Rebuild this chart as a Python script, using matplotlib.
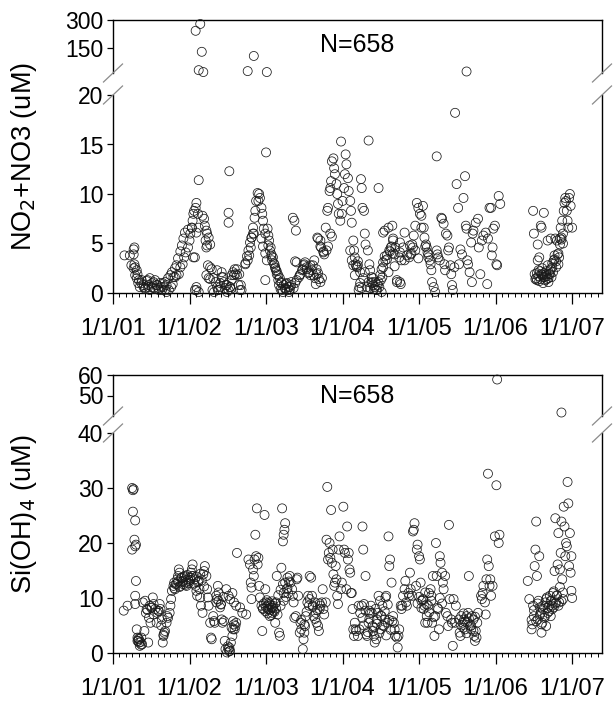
import numpy as np
import matplotlib
matplotlib.use("Agg")
import matplotlib.pyplot as plt
from matplotlib.lines import Line2D
from matplotlib.ticker import FixedLocator, MultipleLocator

plt.rcParams["font.family"] = ["Liberation Sans", "DejaVu Sans"]

# ---- data: time in years since 1/1/01, concentrations in uM ----
no3_t = [0.15, 0.22, 0.27, 0.28, 0.27, 0.28, 0.29, 0.31, 0.32, 0.34, 0.37, 0.40, 0.42, 0.45,
         0.46, 0.48, 0.51, 0.53, 0.55, 0.58, 0.60, 0.63, 0.65, 0.68, 0.70, 0.73, 0.76, 0.78,
         0.81, 0.83, 0.86, 0.88, 0.91, 0.93, 0.95, 0.98, 1.00, 1.01, 1.03, 1.04, 1.05, 1.06,
         1.08, 1.09, 1.11, 1.12, 1.09, 1.07, 1.12, 1.09, 1.12, 1.17, 1.19, 1.20, 1.22, 1.23,
         1.22, 1.23, 1.27, 1.24, 1.27, 1.30, 1.32, 1.34, 1.36, 1.37, 1.40, 1.42, 1.45, 1.48,
         1.49, 1.51, 1.51, 1.52, 1.53, 1.54, 1.55, 1.58, 1.60, 1.62, 1.65, 1.67, 1.68, 1.73,
         1.76, 1.78, 1.80, 1.81, 1.83, 1.84, 1.85, 1.86, 1.87, 1.89, 1.91, 1.90, 1.92, 1.94,
         1.95, 1.96, 1.97, 1.99, 2.00, 2.02, 2.03, 2.04, 2.06, 2.07, 2.08, 2.09, 2.11, 2.12,
         2.13, 2.14, 2.16, 2.17, 2.19, 2.20, 2.21, 2.22, 2.25, 2.26, 2.27, 2.30, 2.31, 2.33,
         2.35, 2.37, 2.39, 2.40, 2.43, 2.45, 2.48, 2.50, 2.53, 2.56, 2.58, 2.61, 2.63, 2.65,
         2.66, 2.67, 2.69, 2.71, 2.72, 2.75, 2.76, 2.78, 2.80, 2.81, 2.83, 2.84, 2.85, 2.86,
         2.88, 2.89, 2.90, 2.92, 2.93, 2.94, 2.95, 2.97, 2.98, 2.99, 3.00, 3.02, 3.03, 3.04,
         3.05, 3.07, 3.08, 3.10, 3.11, 3.12, 3.14, 3.15, 3.16, 3.17, 3.19, 3.20, 3.21, 3.22,
         3.24, 3.25, 3.26, 3.28, 3.29, 3.30, 3.33, 3.34, 3.35, 3.36, 3.38, 3.39, 3.40, 3.41,
         3.43, 3.44, 3.46, 3.47, 3.48, 3.50, 3.51, 3.52, 3.53, 3.55, 3.56, 3.58, 3.61, 3.63,
         3.65, 3.66, 3.68, 3.69, 3.71, 3.74, 3.75, 3.76, 3.77, 3.79, 3.81, 3.84, 3.87, 3.89,
         3.91, 3.92, 3.93, 3.95, 3.97, 3.99, 4.01, 4.03, 4.05, 4.06, 4.07, 4.09, 4.10, 4.11,
         4.12, 4.14, 4.15, 4.16, 4.17, 4.19, 4.21, 4.23, 4.23, 4.24, 4.25, 4.27, 4.29, 4.30,
         4.32, 4.33, 4.34, 4.35, 4.37, 4.38, 4.39, 4.41, 4.42, 4.43, 4.44, 4.46, 4.47, 4.49,
         4.51, 4.52, 4.54, 4.56, 4.58, 4.60, 4.61, 4.62, 4.63, 4.64, 4.66, 4.68, 4.69, 4.70,
         4.71, 4.74, 4.77, 4.78, 4.80, 4.82, 4.84, 4.87, 4.89, 4.90, 4.92, 4.94, 4.95, 4.96,
         4.97, 4.99, 5.01, 5.02, 5.04, 5.06,
         5.49, 5.50, 5.51, 5.52, 5.54, 5.55, 5.55, 5.56, 5.57, 5.59, 5.60, 5.60, 5.61, 5.62,
         5.63, 5.65, 5.66, 5.67, 5.68, 5.69, 5.70, 5.71, 5.72, 5.73, 5.74, 5.76, 5.77, 5.78,
         5.79, 5.80, 5.81, 5.82, 5.83, 5.84, 5.85, 5.86, 5.87, 5.88, 5.89, 5.90, 5.91, 5.92,
         5.93, 5.94, 5.95, 5.96, 5.97, 5.98, 6.00,
         # denser parts of the troughs
         0.24, 0.27, 0.29, 0.31, 0.33, 0.35, 0.375, 0.40, 0.42, 0.44, 0.46, 0.48, 0.51, 0.53,
         0.55, 0.57, 0.59, 0.61, 0.64, 0.66, 0.68, 0.70, 0.72, 0.75, 0.77, 0.79, 0.81, 0.83,
         0.85, 0.88, 0.90, 0.92, 0.94, 0.98, 1.03,
         1.07, 1.09, 1.22, 1.25, 1.27, 1.29, 1.31, 1.36, 1.38, 1.40, 1.42, 1.44, 1.46, 1.49,
         1.51, 1.53, 1.55, 1.57, 1.59, 1.62, 1.64, 1.66, 1.21, 1.25, 1.05,
         1.73, 1.75, 1.77, 1.79, 1.81, 1.83,
         1.94, 1.96, 1.99, 2.01, 2.03, 2.05, 2.07, 2.10, 2.12, 2.14, 2.16, 2.18, 2.20, 2.23,
         2.25, 2.27, 2.29, 2.31, 2.33, 2.36, 2.38, 2.40, 1.99,
         2.44, 2.47, 2.49, 2.51, 2.53, 2.55, 2.58, 2.60, 2.62, 2.64, 2.66, 2.68, 2.71, 2.73,
         2.38, 2.68, 2.71, 2.75, 2.79, 2.81, 2.84, 2.86,
         3.10, 3.12, 3.14, 3.18, 3.20, 3.16, 3.23, 3.25, 3.27, 3.29, 3.32, 3.34, 3.36, 3.38,
         3.40, 3.42, 3.45, 3.47, 3.49, 3.51, 3.53, 3.55, 3.58, 3.60, 3.62, 3.64, 3.66, 3.68,
         3.71, 3.75, 3.23,
         3.53, 3.60, 3.66, 3.75, 3.81, 3.88, 3.90, 3.95, 3.99, 4.03, 4.08, 4.12,
         5.53, 5.54, 5.56, 5.57, 5.58, 5.59, 5.61, 5.62, 5.63, 5.64, 5.66, 5.67, 5.68, 5.69,
         5.71, 5.72, 5.74, 5.75, 5.77, 5.79, 5.82, 5.84, 5.86, 5.88,
         # high values (upper segment)
         1.14, 1.08, 1.16, 1.12, 1.18, 1.76, 1.84, 2.01, 4.62]
no3_v = [3.8, 3.8, 4.4, 4.6, 3.9, 2.9, 2.6, 2.3, 1.9, 1.3, 1.0, 0.6, 0.4, 1.3,
         0.8, 0.3, 0.6, 1.1, 0.4, 0.8, 0.3, 0.6, 1.0, 0.3, 0.1, 0.3, 0.6, 0.9,
         1.6, 1.8, 1.9, 2.6, 2.9, 3.6, 4.1, 4.6, 5.3, 6.0, 6.6, 7.3, 8.0, 8.3,
         8.6, 9.1, 8.0, 6.6, 6.1, 3.6, 11.4, 0.3, 0.1, 7.8, 7.5, 6.8, 6.3, 6.0,
         4.6, 4.8, 4.9, 2.8, 1.4, 0.3, 0.1, 1.1, 2.3, 0.3, 0.6, 1.6, 1.1, 0.8,
         0.1, 8.1, 7.1, 12.3, 0.6, 0.4, 1.3, 1.8, 1.9, 2.4, 1.9, 0.8, 0.3, 2.9,
         3.3, 3.8, 4.6, 5.6, 6.6, 6.0, 7.6, 8.3, 9.3, 10.1, 10.0, 9.3, 9.6, 8.6,
         8.0, 7.3, 6.5, 6.0, 14.2, 6.5, 5.8, 5.3, 4.6, 3.9, 3.3, 3.6, 2.9, 2.6,
         2.3, 1.9, 1.3, 0.8, 0.4, 1.0, 0.3, 0.1, 0.4, 0.9, 0.3, 0.1, 0.6, 1.1,
         7.6, 7.3, 6.3, 3.1, 1.6, 1.9, 2.4, 2.9, 2.6, 2.1, 1.8, 2.8, 3.3, 0.9,
         1.9, 5.6, 1.4, 5.3, 4.6, 4.1, 3.9, 6.6, 8.3, 8.6, 10.3, 10.6, 11.3, 13.3,
         13.6, 12.6, 12.0, 11.0, 10.0, 9.0, 8.0, 7.3, 15.3, 8.0, 9.3, 10.6, 12.0, 14.0,
         13.0, 11.6, 10.3, 9.3, 8.3, 7.1, 5.3, 4.3, 3.6, 2.9, 2.6, 2.8, 0.3, 0.6,
         11.5, 10.6, 8.6, 8.3, 6.0, 4.9, 4.3, 15.4, 2.9, 2.3, 1.6, 1.1, 0.8, 0.4,
         1.1, 0.3, 0.8, 10.6, 0.6, 1.3, 0.1, 1.6, 2.6, 6.3, 3.3, 3.8, 4.3, 4.6,
         6.8, 5.3, 3.9, 4.6, 1.3, 3.6, 4.1, 0.9, 3.3, 4.6, 3.3, 3.8, 3.6, 3.9,
         4.9, 4.6, 5.8, 6.8, 9.1, 8.6, 8.0, 7.8, 8.8, 6.6, 5.6, 4.9, 4.6, 4.1,
         3.6, 3.3, 2.9, 2.3, 1.1, 0.6, 0.1, 13.8, 4.3, 3.9, 3.6, 3.3, 7.6, 7.5,
         7.0, 2.9, 2.3, 6.0, 5.8, 4.3, 4.6, 2.8, 1.9, 0.8, 0.3, 2.6, 18.2, 11.0,
         8.6, 2.9, 4.4, 3.9, 9.6, 11.8, 6.8, 6.5, 3.3, 2.9, 2.1, 5.1, 1.1, 6.0,
         6.3, 7.1, 7.5, 4.6, 1.9, 5.3, 5.8, 6.1, 0.9, 5.5, 8.6, 8.6, 3.8, 4.6,
         6.5, 6.8, 2.9, 2.8, 9.8, 9.0,
         8.3, 6.0, 1.9, 1.4, 1.3, 4.9, 3.3, 2.3, 3.6, 6.8, 6.6, 1.9, 1.8, 1.6,
         8.1, 1.3, 1.9, 1.4, 5.3, 1.1, 1.9, 2.3, 5.5, 1.6, 2.6, 3.3, 3.8, 5.5,
         2.6, 5.3, 3.9, 2.9, 3.6, 4.9, 6.6, 5.6, 7.3, 6.0, 8.3, 9.1, 9.6, 9.3,
         8.3, 7.3, 6.6, 9.6, 10.0, 8.8, 6.6,
         # denser parts of the troughs
         2.8, 2.5, 1.8, 1.5, 1.0, 0.6, 1.3, 0.8, 0.5, 1.2, 0.6, 1.5, 1.0, 0.5,
         1.3, 0.8, 0.5, 1.0, 0.3, 0.6, 1.1, 0.8, 1.5, 1.8, 2.1, 1.6, 2.5, 2.8,
         3.5, 4.2, 4.8, 5.5, 6.1, 6.4, 6.6,
         0.3, 0.6, 1.8, 1.5, 2.6, 2.4, 1.5, 0.6, 0.3, 1.0, 2.1, 1.6, 0.5, 0.8,
         0.3, 0.6, 1.8, 2.1, 2.4, 1.8, 0.8, 0.3, 5.3, 5.6, 3.6,
         3.0, 3.7, 4.3, 5.1, 5.6, 6.0,
         5.5, 4.7, 4.0, 3.3, 4.8, 4.3, 3.7, 3.0, 2.5, 2.2, 1.8, 1.5, 1.1, 0.8,
         0.5, 1.0, 0.6, 0.3, 0.8, 0.5, 1.0, 1.3, 1.3,
         1.8, 2.3, 2.8, 3.1, 2.4, 2.0, 2.8, 2.3, 1.8, 1.5, 2.4, 2.0, 1.1, 1.5,
         3.2, 5.5, 4.7, 4.2, 4.3, 4.7, 6.0, 5.7,
         4.3, 3.3, 2.8, 2.7, 3.2, 1.8, 1.0, 0.5, 1.5, 2.1, 0.6, 1.1, 0.5, 1.0,
         1.5, 0.6, 0.3, 1.1, 1.8, 2.4, 3.1, 3.7, 3.4, 2.1, 4.2, 4.7, 4.0, 2.7,
         1.1, 1.1, 2.1,
         6.1, 6.6, 5.5, 5.1, 6.1, 4.8, 4.0, 4.3, 3.5, 6.6, 4.7, 3.9,
         1.5, 2.0, 1.7, 1.2, 2.2, 1.4, 2.5, 1.0, 2.0, 1.6, 2.2, 1.7, 2.8, 1.5,
         1.9, 2.4, 3.0, 2.1, 3.4, 3.2, 4.0, 5.5, 5.4, 5.0,
         279, 243, 132, 35, 25, 30, 110, 25, 28]

si_t = [0.14, 0.19, 0.25, 0.26, 0.27, 0.26, 0.29, 0.28, 0.29, 0.25, 0.30, 0.30, 0.29, 0.29,
        0.31, 0.32, 0.33, 0.34, 0.35, 0.32, 0.34, 0.37, 0.38, 0.39, 0.41, 0.42, 0.43, 0.44,
        0.46, 0.47, 0.48, 0.49, 0.51, 0.52, 0.53, 0.55, 0.57, 0.58, 0.59, 0.61, 0.62, 0.64,
        0.65, 0.66, 0.67, 0.68, 0.70, 0.71, 0.72, 0.74, 0.75, 0.76, 0.77, 0.79, 0.80, 0.81,
        0.82, 0.84, 0.85, 0.86, 0.87, 0.88, 0.90, 0.91, 0.92, 0.94, 0.95, 0.96, 0.98, 0.99,
        1.01, 1.02, 1.03, 1.04, 1.05, 1.07, 1.08, 1.09, 1.10, 1.12, 1.13, 1.14, 1.15, 1.17,
        1.18, 1.19, 1.20, 1.22, 1.23, 1.24, 1.25, 1.27, 1.28, 1.29, 1.31, 1.32, 1.33, 1.35,
        1.36, 1.37, 1.38, 1.40, 1.41, 1.42, 1.43, 1.45, 1.46, 1.47, 1.49, 1.51, 1.52, 1.53,
        1.54, 1.56, 1.57, 1.58, 1.59, 1.60, 1.61, 1.62, 1.48, 1.51, 1.53, 1.56, 1.58, 1.61,
        1.66, 1.69, 1.74,
        1.77, 1.79, 1.80, 1.81, 1.81, 1.83, 1.84, 1.85, 1.86, 1.87, 1.88, 1.89, 1.90, 1.91,
        1.92, 1.94, 1.95, 1.96, 1.98, 1.99, 2.00, 2.02, 2.03, 2.04, 2.05, 2.07, 2.08, 2.09,
        2.10, 2.12, 2.13, 2.14, 2.15, 2.17, 2.18, 2.19, 2.20, 2.21, 2.22, 2.23, 2.23, 2.24,
        2.25, 2.23, 2.25, 2.27, 2.28, 2.29, 2.31, 2.32, 2.34, 2.35, 2.36, 2.37, 2.39, 2.40,
        2.41, 2.42, 2.44,
        2.45, 2.46, 2.48, 2.49, 2.50, 2.51, 2.52, 2.54, 2.55, 2.56, 2.57, 2.59, 2.60, 2.61,
        2.62, 2.64, 2.65, 2.66, 2.68, 2.69, 2.70, 2.71, 2.73, 2.74, 2.75, 2.76, 2.78, 2.79,
        2.80, 2.81, 2.82, 2.83, 2.84, 2.85, 2.86, 2.87, 2.88, 2.89, 2.90, 2.91, 2.92, 2.93,
        2.94, 2.95, 2.96, 2.98, 2.99, 3.01, 3.02, 3.03, 3.05, 3.06, 3.07, 3.08, 3.09, 3.10,
        3.11, 3.12, 3.13, 3.14, 3.15,
        3.16, 3.17, 3.18, 3.20, 3.21, 3.22, 3.23, 3.25, 3.26, 3.27, 3.28, 3.30, 3.31, 3.32,
        3.34, 3.35, 3.36, 3.37, 3.39, 3.40, 3.41, 3.42, 3.44, 3.45, 3.46, 3.47, 3.49, 3.50,
        3.51, 3.52, 3.54, 3.55, 3.56, 3.57, 3.59, 3.60, 3.61, 3.62, 3.64, 3.66, 3.67, 3.68,
        3.69, 3.71, 3.72, 3.73, 3.74, 3.76, 3.77, 3.78, 3.79, 3.81, 3.82, 3.83, 3.84, 3.86,
        3.87, 3.88, 3.89, 3.91, 3.92, 3.93, 3.94, 3.96, 3.97, 3.98, 4.00, 4.01, 4.02, 4.03,
        4.05, 4.06, 4.07, 4.08, 4.10, 4.11, 4.12, 4.13, 4.15, 4.16, 4.17, 4.18, 4.20, 4.21,
        4.22, 4.23, 4.25, 4.26, 4.27, 4.28, 4.30, 4.31, 4.32, 4.34, 4.35, 4.37, 4.38, 4.39,
        4.40, 4.42, 4.43, 4.44, 4.45, 4.47, 4.48,
        4.52, 4.53, 4.54, 4.55, 4.57, 4.58, 4.59, 4.60, 4.62, 4.63, 4.64, 4.65, 4.67, 4.68,
        4.69, 4.71, 4.72, 4.73, 4.74, 4.76, 4.77,
        4.81, 4.82, 4.83, 4.84, 4.86, 4.87, 4.88, 4.89, 4.91, 4.90, 4.92, 4.93, 4.94, 4.96,
        4.99, 5.01, 5.04, 5.05,
        5.42, 5.44, 5.47, 5.48, 5.49, 5.50, 5.51, 5.52, 5.53, 5.54, 5.55, 5.56, 5.57, 5.58,
        5.59, 5.60, 5.61, 5.62, 5.64, 5.65, 5.66, 5.67, 5.68, 5.70, 5.71, 5.72, 5.73, 5.74,
        5.75, 5.76, 5.77, 5.78, 5.79, 5.80, 5.81, 5.82, 5.83, 5.84, 5.85, 5.86, 5.87, 5.88,
        5.89, 5.90, 5.91, 5.92, 5.93, 5.94, 5.95, 5.96, 5.97, 5.98, 5.99, 5.99, 6.00,
        # high values (upper segment)
        5.02, 5.86]
si_v = [7.7, 8.6, 30.0, 29.6, 29.8, 25.7, 24.1, 20.6, 19.4, 18.8, 19.7, 13.1, 10.4, 8.9,
        4.3, 2.8, 2.2, 1.9, 1.3, 2.2, 2.5, 2.8, 1.6, 9.2, 4.0, 9.5, 7.3, 8.0,
        1.9, 6.4, 8.6, 5.5, 8.3, 10.1, 8.9, 8.0, 5.5, 7.3, 7.7, 8.9, 8.0, 6.1,
        1.9, 3.1, 3.7, 4.0, 5.5, 6.7, 6.4, 7.3, 8.6, 9.8, 11.3, 12.2, 12.8, 11.6,
        12.5, 13.4, 14.0, 15.2, 14.6, 12.2, 13.7, 13.1, 12.5, 14.0, 12.8, 12.2, 13.4, 13.1,
        13.7, 14.6, 15.2, 16.1, 14.0, 13.4, 12.2, 11.3, 10.4, 13.1, 11.6, 10.1, 8.6, 7.3,
        14.3, 14.9, 15.8, 14.0, 11.6, 10.1, 8.6, 5.5, 2.8, 2.5, 6.7, 5.8, 5.5, 10.4,
        9.8, 12.2, 9.5, 8.3, 8.9, 6.1, 5.5, 5.8, 2.2, 0.7, 0.1, 0.7, 1.0, 0.4,
        1.9, 3.1, 4.3, 5.2, 4.3, 4.9, 5.5, 18.2, 11.6, 10.4, 9.8, 10.9, 9.2, 8.6,
        8.3, 7.3, 7.0,
        17.0, 16.1, 12.8, 11.9, 9.8, 15.2, 14.0, 17.0, 21.5, 17.6, 26.3, 16.1, 17.3, 12.2,
        10.1, 8.6, 4.0, 8.0, 25.1, 11.6, 9.2, 8.6, 8.0, 8.9, 6.7, 8.3, 7.3, 8.6,
        7.7, 5.5, 9.2, 14.0, 7.0, 3.7, 3.1, 8.6, 15.5, 26.3, 20.3, 21.5, 9.5, 22.4,
        23.6, 10.9, 12.8, 11.6, 13.7, 10.9, 14.0, 12.8, 11.6, 10.4, 9.2, 6.4, 6.7, 13.4,
        13.7, 10.4, 3.7,
        5.5, 4.3, 0.7, 2.5, 3.7, 4.9, 6.7, 9.2, 10.4, 8.6, 14.0, 13.7, 10.4, 8.6,
        6.7, 9.2, 7.3, 5.5, 4.9, 4.0, 8.0, 8.6, 9.2, 11.6, 8.0, 7.0, 9.2, 20.6,
        30.2, 17.0, 18.2, 20.0, 17.3, 26.0, 16.4, 18.8, 14.3, 12.2, 12.8, 15.8, 13.4, 10.4,
        8.9, 18.8, 21.2, 11.6, 12.8, 26.6, 18.8, 18.2, 11.6, 23.0, 17.0, 18.2, 15.2, 14.6,
        10.9, 10.9, 8.0, 4.3, 3.1,
        5.5, 4.3, 4.0, 3.1, 8.6, 4.3, 7.3, 8.6, 23.0, 18.8, 8.9, 14.0, 3.4, 3.1,
        5.5, 7.7, 7.3, 8.6, 4.9, 4.0, 3.1, 1.9, 2.5, 6.1, 7.3, 10.4, 9.5, 4.3,
        6.7, 8.6, 4.9, 6.1, 10.1, 10.4, 5.5, 21.2, 15.8, 17.0, 12.8, 6.7, 5.5, 4.3,
        3.1, 2.8, 1.0, 3.1, 4.3, 8.6, 8.0, 8.6, 10.4, 11.6, 13.1, 9.2, 8.6, 10.9,
        10.4, 14.6, 11.6, 10.4, 22.1, 22.4, 23.6, 12.2, 18.8, 19.7, 17.6, 17.0, 12.8, 9.5,
        9.8, 8.0, 8.6, 5.5, 6.7, 5.5, 8.6, 10.9, 11.6, 10.4, 5.5, 14.0, 3.1, 6.7,
        20.0, 14.0, 8.0, 4.3, 17.6, 16.4, 14.6, 12.8, 11.6, 14.0, 7.3, 6.7, 4.9, 23.3,
        9.8, 6.1, 5.5, 1.3, 9.8, 5.5, 8.6,
        6.1, 3.7, 3.1, 6.7, 5.5, 4.6, 6.1, 4.3, 6.7, 5.5, 7.3, 14.0, 4.9, 4.3,
        6.7, 6.1, 3.1, 2.2, 4.0, 5.5, 7.3,
        10.4, 9.8, 10.9, 12.2, 9.2, 7.0, 13.4, 17.0, 15.8, 32.6, 12.2, 13.4, 10.4, 12.2,
        21.2, 30.5, 20.0, 21.5,
        13.1, 9.8, 4.3, 5.2, 8.6, 6.7, 15.8, 18.8, 23.9, 14.0, 6.1, 9.5, 17.6, 8.3,
        7.3, 3.7, 5.5, 8.6, 6.7, 9.2, 4.9, 10.1, 7.3, 8.6, 10.4, 6.7, 9.5, 8.6,
        10.9, 8.3, 14.9, 24.5, 9.2, 10.4, 16.1, 21.8, 9.2, 15.2, 18.2, 23.9, 13.4, 9.8,
        26.6, 23.0, 17.6, 20.0, 19.4, 31.1, 27.2, 15.8, 21.8, 14.6, 17.6, 11.3, 10.0,
        57.8, 41.7]

# extra Si(OH)4 samples in the densest clusters
si_dense_t = [0.80, 0.83, 0.85, 0.87, 0.89, 0.91, 0.93, 0.95, 0.97, 0.99, 1.01, 1.03, 1.06, 1.09, 1.11, 1.14, 1.16, 1.19,
              0.36, 0.33, 0.37, 0.45, 0.50, 0.53, 0.60, 0.63, 0.66,
              1.35, 1.38, 1.41, 1.44, 1.50, 1.52, 1.55, 1.57,
              1.96, 1.97, 1.99, 2.00, 2.01, 2.02, 2.03, 2.04, 2.05, 2.06, 2.07, 2.08, 2.09, 2.11, 2.12, 2.13, 2.16, 2.19, 2.22, 2.26, 2.28, 2.30,
              2.46, 2.50, 2.53, 2.57, 2.61, 2.64, 2.67, 2.70,
              3.26, 3.28, 3.30, 3.33, 3.35, 3.38, 3.41, 3.43, 3.45, 3.48, 3.50, 3.52, 3.55, 3.57, 3.59, 3.61, 3.63, 3.65,
              3.98, 4.00, 4.03, 4.05, 4.08, 4.10, 4.13, 4.16, 4.19, 4.24, 4.27, 4.30,
              4.55, 4.58, 4.60, 4.62, 4.65, 4.68, 4.71, 4.73, 4.75,
              5.47, 5.50, 5.53, 5.55, 5.58, 5.60, 5.62, 5.64, 5.66, 5.68, 5.70, 5.72, 5.74, 5.76, 5.78, 5.80, 5.82, 5.84, 5.86, 5.88]
si_dense_v = [11.8, 12.6, 13.0, 12.0, 13.6, 12.9, 13.8, 12.4, 14.2, 12.7, 13.3, 14.0, 12.6, 13.9, 12.9, 14.4, 13.2, 12.1,
              2.0, 2.6, 1.5, 7.8, 8.2, 7.0, 7.6, 5.0, 3.3,
              9.2, 11.0, 8.8, 10.2, 1.2, 0.3, 4.6, 5.8,
              8.1, 9.0, 7.6, 8.4, 9.6, 7.2, 8.0, 9.2, 7.8, 8.7, 6.9, 9.4, 8.2, 7.5, 9.0, 8.1, 10.5, 11.5, 12.5, 10.2, 11.8, 13.0,
              6.0, 5.2, 7.5, 9.8, 8.4, 6.2, 7.8, 9.0,
              6.4, 5.0, 7.7, 3.8, 6.2, 7.3, 4.6, 8.0, 5.3, 3.6, 6.8, 5.0, 7.6, 3.2, 8.8, 6.0, 4.2, 5.8,
              9.0, 10.2, 8.2, 9.6, 11.0, 8.8, 7.4, 9.5, 6.5, 8.2, 10.0, 9.0,
              5.0, 7.2, 5.7, 3.6, 6.3, 5.0, 4.0, 6.6, 2.8,
              6.0, 7.8, 5.8, 9.0, 7.0, 5.2, 8.0, 6.4, 9.8, 8.2, 7.6, 9.5, 8.0, 11.2, 9.0, 10.5, 8.6, 12.0, 9.4, 11.0]

year_ticks = [0, 1, 2, 3, 4, 5, 6]
year_labels = ["1/1/01", "1/1/02", "1/1/03", "1/1/04", "1/1/05", "1/1/06", "1/1/07"]
x_end = 6.39

fig = plt.figure(figsize=(6.13, 7.02), dpi=100)
W_PX, H_PX = 613.0, 702.0
LEFT, RIGHT = 113, 602


def fr(y_top, y_bot):
    # pixel rows -> figure fraction (bottom, height)
    return 1 - y_bot / H_PX, (y_bot - y_top) / H_PX


def panel(t, v, hi_rows, lo_rows, hi_lim, lo_lim, hi_ticks, lo_ticks, ylabel, n_y):
    t = np.asarray(t, dtype=float)
    v = np.asarray(v, dtype=float)
    x0 = LEFT / W_PX
    w = (RIGHT - LEFT) / W_PX
    b_hi, h_hi = fr(*hi_rows)
    b_lo, h_lo = fr(*lo_rows)
    ax_hi = fig.add_axes([x0, b_hi, w, h_hi])
    ax_lo = fig.add_axes([x0, b_lo, w, h_lo])

    for ax, lim, ticks in ((ax_hi, hi_lim, hi_ticks), (ax_lo, lo_lim, lo_ticks)):
        keep = (v >= lim[0]) & (v <= lim[1])
        if ax is ax_hi:
            keep = v > lim[0]
        ax.scatter(t[keep], v[keep], s=42, facecolors="none", edgecolors="#1a1a1a",
                   linewidths=0.55, clip_on=False, zorder=3)
        ax.set_xlim(0, x_end)
        ax.set_ylim(*lim)
        ax.yaxis.set_major_locator(FixedLocator(ticks))
        ax.tick_params(axis="y", direction="out", length=4, width=0.9, labelsize=16.5, pad=3)
        for sp in ax.spines.values():
            sp.set_linewidth(1.0)

    ax_hi.spines["bottom"].set_visible(False)
    ax_hi.tick_params(axis="x", which="both", bottom=False, labelbottom=False)
    ax_lo.spines["top"].set_visible(False)
    ax_lo.xaxis.set_major_locator(FixedLocator(year_ticks))
    ax_lo.xaxis.set_minor_locator(MultipleLocator(1 / 12))
    ax_lo.set_xticklabels(year_labels)
    ax_lo.tick_params(axis="x", which="major", direction="out", length=8, width=0.9,
                      labelsize=17, pad=10)
    ax_lo.tick_params(axis="x", which="minor", direction="out", length=3, width=0.7)

    # break marks on both sides
    dx, dy = 9.5 / W_PX, 9 / H_PX
    for xs in (LEFT, RIGHT):
        xf = xs / W_PX
        for yf in (b_hi, b_lo + h_lo):
            fig.add_artist(Line2D([xf - dx, xf + dx], [yf - dy, yf + dy], color="#8a8a8a",
                                  lw=0.9, transform=fig.transFigure))

    y_mid = 1 - (hi_rows[0] + lo_rows[1]) / 2 / H_PX
    fig.text(24 / W_PX, y_mid, ylabel, rotation=90, ha="center", va="center", fontsize=19.5)
    ax_hi.text(0.5, n_y, "N=658", transform=ax_hi.transAxes, ha="center", va="center",
               fontsize=18)
    return ax_hi, ax_lo


panel(no3_t, no3_v, (20, 73), (95, 293), (20, 300), (0, 20), [150, 300], [0, 5, 10, 15, 20],
      "NO$_2$+NO3 (uM)", 0.52)
panel(si_t + si_dense_t, si_v + si_dense_v, (375, 416), (433, 653), (40, 60), (0, 40),
      [50, 60], [0, 10, 20, 30, 40], "Si(OH)$_4$ (uM)", 0.48)

# title, almost entirely above the canvas
fig.text(428 / W_PX, 1 + 7 / H_PX, "Bay", ha="right", va="baseline", fontsize=20,
         fontweight="bold")

fig.savefig("out.png", dpi=100)
